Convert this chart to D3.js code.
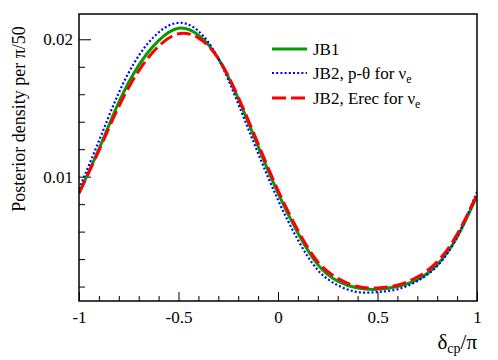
<!DOCTYPE html>
<html>
<head>
<meta charset="utf-8">
<script src="https://cdn.jsdelivr.net/npm/d3@7"></script>
<style>
  body { margin: 0; background: #fff; }
  svg text { font-family: "Liberation Serif", "DejaVu Serif", serif; fill: #000; }
</style>
</head>
<body>
<div id="chart"></div>
<script>
//DATA (steps of 0.1 in delta_cp/pi)
const deltaValues = [-1.0, -0.9, -0.8, -0.7, -0.6, -0.5, -0.4, -0.3, -0.2, -0.1, 0.0,
                     0.1, 0.2, 0.3, 0.4, 0.5, 0.6, 0.7, 0.8, 0.9, 1.0];
const jb1 = [0.0088, 0.0120, 0.0154, 0.0181, 0.0199, 0.0208, 0.0203, 0.0186, 0.0157, 0.0122, 0.0088,
             0.0059, 0.0036, 0.0024, 0.0019, 0.0018, 0.0020, 0.0025, 0.0036, 0.0056, 0.0086];
const jb2PTheta = [0.0091, 0.0126, 0.0161, 0.0188, 0.0205, 0.0212, 0.0206, 0.0186, 0.0153, 0.0117, 0.0083,
                   0.0054, 0.0032, 0.0021, 0.0016, 0.0016, 0.0018, 0.0024, 0.0035, 0.0056, 0.0089];
const jb2Erec = [0.0088, 0.0119, 0.0151, 0.0177, 0.0195, 0.0204, 0.0201, 0.0186, 0.0158, 0.0124, 0.0090,
                 0.0061, 0.0038, 0.0026, 0.0020, 0.0019, 0.0021, 0.0027, 0.0038, 0.0058, 0.0087];

const xMajorTicks = [-1, -0.5, 0, 0.5, 1];
const xTickLabels = ["-1", "-0.5", "0", "0.5", "1"];
const yMajorTicks = [0.01, 0.02];
const yTickLabels = ["0.01", "0.02"];

//CONFIG
const serif = "Liberation Serif";
const width = 498, height = 360;
const margin = {top: 14, right: 21, bottom: 59, left: 79};
const plotW = width - margin.left - margin.right;
const plotH = height - margin.top - margin.bottom;

const svg = d3.select("#chart")
  .append("svg")
  .attr("width", width)
  .attr("height", height);

const g = svg.append("g")
  .attr("transform", "translate(" + margin.left + "," + margin.top + ")");

// scales
const x = d3.scaleLinear().domain([-1, 1]).range([0, plotW]);
const y = d3.scaleLinear().domain([0.00095, 0.02184]).range([plotH, 0]);

// clip so nothing leaks past the frame
g.append("clipPath").attr("id", "clip")
  .append("rect").attr("width", plotW).attr("height", plotH);

// x axis ticks (pointing inside, ROOT style)
const xMinor = d3.range(-10, 11).map(d => d / 10).filter(d => !xMajorTicks.includes(d));
const xAxisMajor = d3.axisBottom(x).tickValues(xMajorTicks).tickSize(-9)
  .tickFormat((d, i) => xTickLabels[i]).tickPadding(10);
const xAxisMinor = d3.axisBottom(x).tickValues(xMinor).tickSize(-5).tickFormat("");

const gx = g.append("g").attr("transform", "translate(0," + plotH + ")");
gx.call(xAxisMajor);
gx.append("g").call(xAxisMinor);

// y axis ticks
const yMinor = d3.range(1, 11).map(d => d * 0.002).filter(d => y(d) >= 0 && y(d) <= plotH)
  .filter(d => !yMajorTicks.some(t => Math.abs(t - d) < 1e-9));
const yAxisMajor = d3.axisLeft(y).tickValues(yMajorTicks).tickSize(-12)
  .tickFormat((d, i) => yTickLabels[i]).tickPadding(6);
const yAxisMinor = d3.axisLeft(y).tickValues(yMinor).tickSize(-6).tickFormat("");

const gy = g.append("g");
gy.call(yAxisMajor);
gy.append("g").call(yAxisMinor);

// style the axes
g.selectAll(".domain").remove();
g.selectAll(".tick line").attr("stroke", "#000").attr("stroke-width", 1);
gx.attr("font-family", serif).attr("font-size", 17);
gy.attr("font-family", serif).attr("font-size", 17);

// curves
const curves = [
  {name: "jb1", vals: jb1, color: "#00a000", dash: null, w: 3},
  {name: "ptheta", vals: jb2PTheta, color: "#0000ff", dash: "2,2.2", w: 2.2},
  {name: "erec", vals: jb2Erec, color: "#ff0000", dash: "14,5", w: 3}
];

const line = d3.line()
  .x((d, i) => x(deltaValues[i]))
  .y(d => y(d))
  .curve(d3.curveNatural);

const plotArea = g.append("g").attr("clip-path", "url(#clip)");
curves.forEach(c => {
  plotArea.append("path")
    .datum(c.vals)
    .attr("fill", "none")
    .attr("stroke", c.color)
    .attr("stroke-width", c.w)
    .attr("stroke-dasharray", c.dash)
    .attr("d", line);
});

// frame
g.append("rect")
  .attr("width", plotW).attr("height", plotH)
  .attr("fill", "none").attr("stroke", "#000").attr("stroke-width", 1.5);

// legend (no box)
const legendRows = [
  {c: curves[0], y: 35},
  {c: curves[1], y: 59},
  {c: curves[2], y: 84}
];
const legend = g.append("g").attr("font-family", serif);
legendRows.forEach(r => {
  legend.append("line")
    .attr("x1", 193).attr("x2", 228)
    .attr("y1", r.y).attr("y2", r.y)
    .attr("stroke", r.c.color)
    .attr("stroke-width", r.c.w)
    .attr("stroke-dasharray", r.c.dash);
});

legend.append("text").attr("x", 234).attr("y", 35).attr("dy", "0.35em")
  .style("font-size", "17px").text("JB1");

const lt2 = legend.append("text").attr("x", 234).attr("y", 59).attr("dy", "0.35em")
  .style("font-size", "17px");
lt2.append("tspan").text("JB2, p-\u03b8 for \u03bd");
lt2.append("tspan").attr("baseline-shift", "-30%").style("font-size", "12px").text("e");

const lt3 = legend.append("text").attr("x", 234).attr("y", 84).attr("dy", "0.35em")
  .style("font-size", "17px");
lt3.append("tspan").text("JB2, Erec for \u03bd");
lt3.append("tspan").attr("baseline-shift", "-30%").style("font-size", "12px").text("e");

// axis titles
const xt = svg.append("text")
  .attr("x", margin.left + plotW).attr("y", 349)
  .attr("text-anchor", "end")
  .style("font-size", "21px");
xt.append("tspan").text("\u03b4");
xt.append("tspan").attr("baseline-shift", "-30%").style("font-size", "14px").text("cp");
xt.append("tspan").text("/\u03c0");

svg.append("text")
  .attr("transform", "translate(25,119) rotate(-90)")
  .attr("text-anchor", "middle")
  .style("font-size", "18px")
  .text("Posterior density per \u03c0/50");
</script>
</body>
</html>
